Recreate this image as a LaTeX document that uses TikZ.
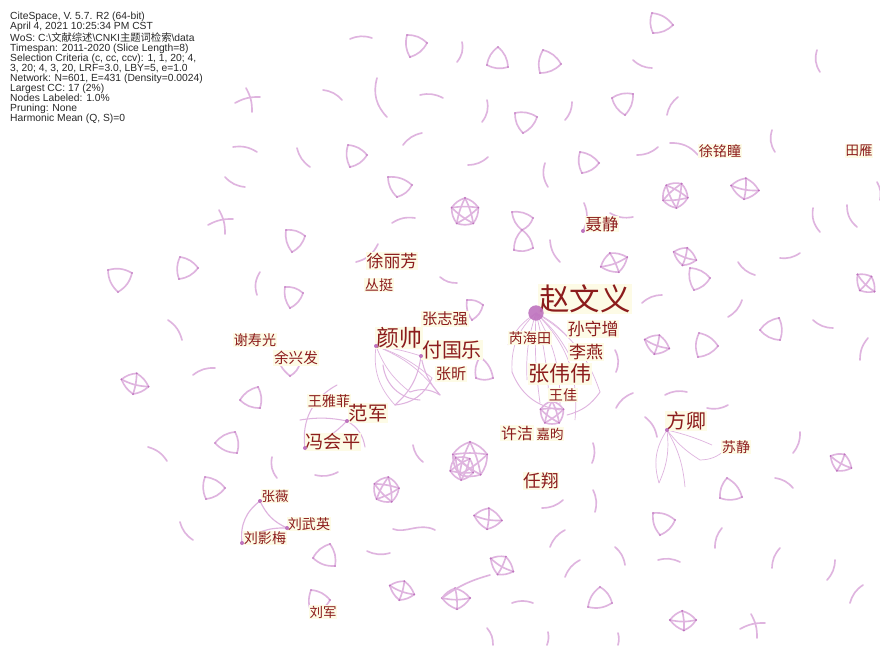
\documentclass[tikz,border=0pt]{standalone}
\usepackage{fontspec}
\setmainfont{Liberation Sans}
\newfontfamily\cjk{Noto Sans CJK SC}
\definecolor{lnkc}{RGB}{223,180,223}
\definecolor{dotc}{RGB}{190,115,190}
\definecolor{labred}{RGB}{140,28,28}
\definecolor{cream}{RGB}{253,251,230}
\definecolor{hdrc}{RGB}{40,40,40}
\tikzset{
  lnk/.style={draw=lnkc, line width=1.4pt, line cap=round},
  fan/.style={draw=lnkc, line width=0.6pt},
  lab/.style={fill=cream, text=labred, inner sep=0.7pt},
  ndot/.style={circle, fill=dotc, inner sep=0pt, minimum size=1.2mm},
}
\newcommand\fs[1]{\fontsize{#1}{#1}\selectfont}
\newcommand\ac[5]{\draw[lnk] (#1,#2) to[bend left=#5] (#3,#4);}
\newcommand\ctri[6]{\draw[lnk] (#1,#2) to[bend left=22] (#3,#4) to[bend left=22] (#5,#6) to[bend left=22] (#1,#2);
  \fill[dotc] (#1,#2) circle (0.8pt) (#3,#4) circle (0.8pt) (#5,#6) circle (0.8pt);}
\newcommand\ccross[2]{\draw[lnk] (#1-13,#2+3) to[bend left=15] (#1+12,#2-3); \draw[lnk] (#1-2,#2-12) to[bend left=15] (#1+4,#2+12);}
\newcommand\cquad[4]{%
  \path (#1,#2) +(#4:#3) coordinate (qq0) +(#4+85:#3*0.8) coordinate (qq1)
        +(#4+180:#3) coordinate (qq2) +(#4+265:#3*0.7) coordinate (qq3);
  \foreach \a/\b in {0/1,1/2,2/3,3/0}{\draw[lnk] (qq\a) to[bend left=16] (qq\b);}
  \draw[lnk] (qq0) to[bend left=12] (qq2); \draw[lnk] (qq1) to[bend right=8] (qq3);
  \foreach \k in {0,...,3}{\fill[dotc] (qq\k) circle (0.9pt);}}
\newcommand\cpen[4]{%
  \foreach \k in {0,...,4}{\path (#1,#2) +(#4+72*\k:#3) coordinate (pp\k);}
  \foreach \a/\b in {0/1,1/2,2/3,3/4,4/0}{\draw[lnk] (pp\a) to[bend left=18] (pp\b);}
  \foreach \a/\b in {0/2,1/3,2/4,3/0,4/1}{\draw[lnk] (pp\a) to[bend left=8] (pp\b);}
  \foreach \k in {0,...,4}{\fill[dotc] (pp\k) circle (0.9pt);}}
\begin{document}
\begin{tikzpicture}[x=0.3mm,y=-0.3mm]
\useasboundingbox[fill=white] (0,0) rectangle (880,645);

% header
\node[anchor=north west, inner sep=0pt, align=left, text=hdrc, font=\fontsize{8.8}{8.54}\selectfont] (hdr) at (10,12) {%
CiteSpace, V. 5.7. R2 (64-bit)\\
April 4, 2021 10:25:34 PM CST\\
WoS: C:\textbackslash{\cjk 文献综述}\textbackslash CNKI{\cjk 主题词检索}\textbackslash data\\
Timespan: 2011-2020 (Slice Length=8)\\
Selection Criteria (c, cc, ccv): 1, 1, 20; 4,\\
3, 20; 4, 3, 20, LRF=3.0, LBY=5, e=1.0\\
Network: N=601, E=431 (Density=0.0024)\\
Largest CC: 17 (2\%)\\
Nodes Labeled: 1.0\%\\
Pruning: None\\
Harmonic Mean (Q, S)=0};

% ---------- single arcs ----------
\ac{350}{39}{372}{38}{20}
\ac{462}{42}{457}{62}{25}
\ac{323}{90}{342}{100}{20}
\ac{377}{78}{387}{117}{-30}
\ac{420}{95}{443}{98}{20}
\ac{487}{100}{482}{122}{25}
\ac{233}{147}{257}{152}{20}
\ac{297}{148}{310}{167}{-20}
\ac{403}{145}{422}{133}{20}
\ac{468}{165}{488}{157}{-20}
\ac{225}{177}{245}{187}{-20}
\ac{392}{223}{415}{218}{20}
\ac{633}{60}{652}{68}{-20}
\ac{817}{50}{820}{72}{-25}
\ac{572}{102}{565}{120}{20}
\ac{678}{97}{667}{115}{-20}
\ac{637}{155}{658}{147}{-20}
\ac{670}{143}{698}{155}{25}
\ac{772}{130}{775}{152}{-25}
\ac{545}{163}{548}{187}{-25}
\ac{584}{203}{583}{231}{25}
\ac{610}{213}{633}{217}{-20}
\ac{813}{208}{820}{232}{-25}
\ac{847}{205}{857}{227}{-25}
\ac{877}{182}{880}{200}{20}
\ac{260}{272}{257}{295}{-25}
\ac{168}{320}{182}{340}{20}
\ac{193}{375}{215}{368}{20}
\ac{148}{447}{167}{461}{20}
\ac{272}{457}{277}{478}{-25}
\ac{642}{303}{662}{295}{20}
\ac{738}{262}{755}{275}{-20}
\ac{780}{258}{800}{253}{-20}
\ac{728}{317}{742}{300}{-20}
\ac{813}{320}{833}{328}{-20}
\ac{868}{338}{860}{360}{-20}
\ac{615}{350}{616}{372}{25}
\ac{633}{393}{616}{408}{-20}
\ac{665}{395}{687}{392}{20}
\ac{707}{408}{728}{405}{-20}
\ac{645}{417}{657}{437}{20}
\ac{800}{432}{793}{453}{20}
\ac{775}{478}{793}{488}{20}
\ac{315}{475}{338}{472}{-20}
\ac{413}{445}{423}{462}{-20}
\ac{180}{522}{193}{540}{-20}
\draw[lnk] (393,529) .. controls (405,534) and (420,522) .. (435,530);
\ac{367}{551}{390}{553}{-20}
\ac{542}{508}{563}{500}{-20}
\ac{593}{443}{592}{463}{20}
\ac{593}{490}{595}{512}{20}
\ac{565}{530}{550}{547}{-20}
\ac{722}{528}{715}{548}{-20}
\ac{615}{547}{625}{565}{20}
\ac{658}{560}{680}{562}{20}
\ac{780}{548}{772}{568}{-20}
\ac{835}{560}{827}{580}{20}
\ac{863}{585}{850}{603}{-20}
\ac{580}{560}{565}{577}{-20}
\ac{512}{603}{533}{603}{20}
\ac{487}{628}{493}{645}{20}
\ac{548}{632}{547}{645}{15}
\ac{618}{633}{618}{645}{15}
\ac{440}{277}{457}{283}{-20}
\ac{356}{262}{378}{244}{-25}
\ac{550}{240}{560}{262}{-20}

% ---------- crosses ----------
\ccross{248}{100}
\ccross{221}{222}
\ccross{753}{626}

% ---------- triangles ----------
\ctri{407}{35}{427}{43}{410}{57}
\ctri{498}{47}{508}{67}{487}{65}
\ctri{543}{50}{561}{64}{540}{73}
\ctri{515}{113}{537}{117}{523}{133}
\ctri{348}{145}{367}{155}{350}{167}
\ctri{388}{177}{412}{185}{397}{197}
\ctri{652}{13}{673}{25}{653}{33}
\ctri{612}{98}{633}{94}{625}{115}
\ctri{580}{152}{599}{163}{582}{173}
\ctri{286}{230}{305}{236}{292}{252}
\ctri{108}{270}{132}{273}{118}{292}
\ctri{180}{257}{198}{268}{179}{279}
\ctri{285}{287}{303}{293}{290}{308}
\ctri{240}{400}{258}{387}{260}{408}
\ctri{215}{443}{235}{432}{237}{453}
\ctri{205}{477}{225}{488}{206}{499}
\ctri{277}{353}{300}{363}{290}{376}
\ctri{760}{330}{779}{318}{780}{340}
\ctri{699}{333}{718}{346}{698}{357}
\ctri{727}{478}{742}{497}{720}{498}
\ctri{313}{558}{330}{544}{335}{566}
\ctri{311}{590}{330}{600}{312}{614}
\ctri{653}{513}{675}{520}{660}{535}
\ctri{588}{607}{600}{587}{612}{603}
\ctri{467}{300}{483}{305}{472}{320}
\ctri{480}{357}{493}{378}{476}{378}
\ctri{512}{212}{533}{218}{522}{230}
\ctri{522}{230}{533}{248}{514}{250}
\ctri{690}{268}{710}{278}{694}{290}

% ---------- quads ----------
\cquad{745}{188}{14}{10}
\cquad{614}{262}{14}{-20}
\cquad{685}{256}{12}{20}
\cquad{866}{283}{12}{45}
\cquad{657}{344}{13}{20}
\cquad{841}{462}{12}{30}
\cquad{135}{383}{14}{15}
\cquad{402}{590}{13}{20}
\cquad{488}{518}{14}{10}
\cquad{502}{565}{13}{30}
\cquad{456}{598}{14}{0}
\draw[lnk] (qq2) to[bend left=10] (490,575);
\cquad{683}{620}{13}{0}

% ---------- pentagons ----------
\cpen{465}{212}{14}{-90}
\cpen{675}{195}{13}{-60}
\cpen{386}{490}{13}{-80}
\cpen{470}{460}{18}{-90}
\cpen{462}{468}{12}{-50}
\cpen{552}{413}{12}{-90}

% ---------- fans ----------
\coordinate (zd) at (536,313);
\foreach \px/\py/\b in {567/336/10,571/358/10,527/380/-10,549/398/5,560/405/15,600/392/20,512/372/-25,508/345/-15,575/420/25,540/403/-5}{
  \draw[fan] (zd) to[bend left=\b] (\px,\py);}
\draw[lnk,line width=0.8pt] (512,372) to[bend right=30] (560,410);
\draw[lnk,line width=0.8pt] (600,392) to[bend left=20] (567,415);

\coordinate (ysd) at (376,346);
\coordinate (fgd) at (421,356);
\draw[fan] (ysd) to[bend left=5] (fgd);
\draw[fan] (ysd) to[bend right=15] (410,392);
\draw[fan] (ysd) to[bend left=15] (440,395);
\draw[fan] (ysd) to[bend right=25] (395,405);
\draw[fan] (ysd) to[bend left=10] (432,378);
\draw[lnk,line width=0.9pt] (fgd) to[bend left=20] (395,405);
\draw[lnk,line width=0.9pt] (fgd) to[bend right=15] (440,395);
\draw[lnk,line width=0.9pt] (410,392) to[bend left=25] (440,395);
\draw[lnk,line width=0.9pt] (383,365) to[bend right=40] (420,400);
\draw[lnk,line width=0.9pt] (395,405) to[bend right=30] (432,378);

\coordinate (fjd) at (347,421);
\coordinate (fhd) at (305,448);
\draw[lnk,line width=0.9pt] (fhd) to[bend right=12] (fjd);
\draw[lnk,line width=0.9pt] (337,385) to[bend right=35] (fhd);
\draw[lnk,line width=0.9pt] (300,420) to[bend left=10] (fjd);
\draw[lnk,line width=0.9pt] (fjd) to[bend left=25] (365,447);

\coordinate (fqd) at (667,430);
\draw[fan] (fqd) to[bend right=25] (659,483);
\draw[fan] (fqd) to[bend left=15] (659,483);
\draw[fan] (fqd) to[bend left=12] (685,487);
\draw[fan] (fqd) to[bend right=10] (700,460) to[bend right=20] (725,450);
\draw[fan] (fqd) to[bend left=5] (712,445);

\coordinate (zwd) at (260,501);
\coordinate (lwd) at (287,528);
\coordinate (lyd) at (242,543);
\draw[lnk,line width=1pt] (zwd) to[bend right=30] (lyd);
\draw[lnk,line width=1pt] (zwd) to[bend right=20] (lwd);
\draw[lnk,line width=1pt] (lyd) to[bend left=20] (lwd);

% ---------- labels ----------
\node[lab, font=\cjk\fs{26}] (zwy) at (585,299) {赵文义};
\node[circle, fill=dotc, opacity=0.9, inner sep=0pt, minimum size=4.6mm] (zwydot) at (zd) {};
\node[lab, font=\cjk\fs{14.5}] (ssz) at (593,329) {孙守增};
\node[lab, font=\cjk\fs{14.5}] (ly) at (586,352) {李燕};
\node[lab, font=\cjk\fs{18}] (zww) at (560,374) {张伟伟};
\node[lab, font=\cjk\fs{12}] (wj) at (563,395) {王佳};
\node[lab, font=\cjk\fs{12}] (rht) at (530,338) {芮海田};
\node[lab, font=\cjk\fs{14.5}] (xlf) at (392,261) {徐丽芳};
\node[lab, font=\cjk\fs{12}] (ct) at (379,285) {丛挺};
\node[lab, font=\cjk\fs{13}] (zzq) at (445,319) {张志强};
\node[lab, font=\cjk\fs{19.5}] (ys) at (399,338) {颜帅};
\node[lab, font=\cjk\fs{17}] (fgl) at (452,350) {付国乐};
\node[lab, font=\cjk\fs{13}] (zx) at (451,374) {张昕};
\node[lab, font=\cjk\fs{12}] (xsg) at (255,340) {谢寿光};
\node[lab, font=\cjk\fs{12.5}] (yxf) at (296,358) {余兴发};
\node[lab, font=\cjk\fs{12}] (wyf) at (329,401) {王雅菲};
\node[lab, font=\cjk\fs{16.5}] (fj) at (368,413) {范军};
\node[lab, font=\cjk\fs{15.5}] (fhp) at (333,442) {冯会平};
\node[lab, font=\cjk\fs{13.5}] (xj) at (517,433) {许洁};
\node[lab, font=\cjk\fs{11.5}] (jy) at (550,434) {嘉昀};
\node[lab, font=\cjk\fs{15}] (rx) at (541,481) {任翔};
\node[lab, font=\cjk\fs{17}] (fq) at (686,421) {方卿};
\node[lab, font=\cjk\fs{12}] (sj) at (736,447) {苏静};
\node[lab, font=\cjk\fs{14}] (nj) at (602,224) {聂静};
\node[lab, font=\cjk\fs{12}] (xmt) at (720,151) {徐铭瞳};
\node[lab, font=\cjk\fs{11.5}] (ty) at (859,151) {田雁};
\node[lab, font=\cjk\fs{11.5}] (zw) at (275,496) {张薇};
\node[lab, font=\cjk\fs{12}] (lwy) at (309,524) {刘武英};
\node[lab, font=\cjk\fs{12}] (lym) at (265,538) {刘影梅};
\node[lab, font=\cjk\fs{11.5}] (lj) at (323,612) {刘军};

% small node dots
\foreach \c in {ysd,fgd,fjd,fhd,fqd,zwd,lwd,lyd}{\node[ndot] at (\c) {};}
\node[ndot] (njd) at (583,231) {};
\end{tikzpicture}
\end{document}
